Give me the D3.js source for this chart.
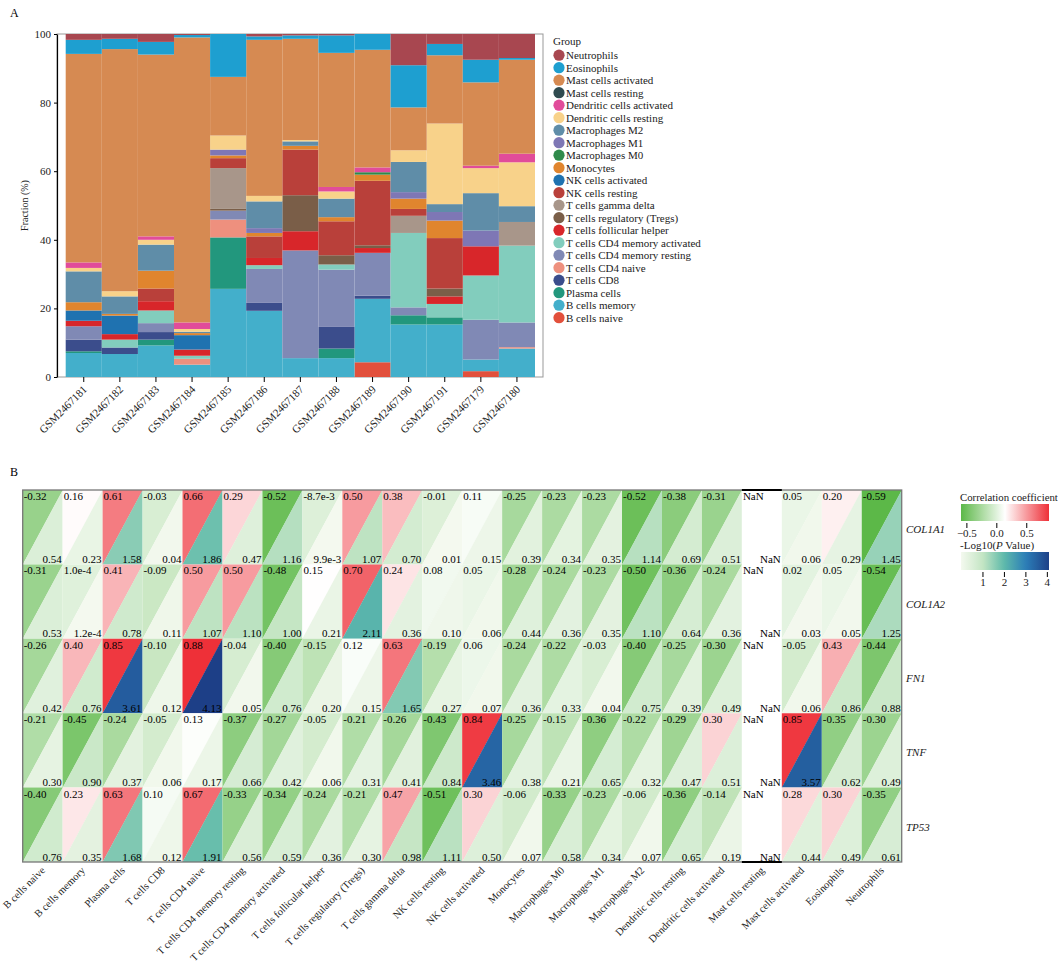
<!DOCTYPE html>
<html>
<head>
<meta charset="utf-8">
<script src="https://cdn.jsdelivr.net/npm/d3@7"></script>
<style>
  body { margin: 0; background: #fff; }
  svg { font-family: "Liberation Serif", "Times New Roman", serif; }
</style>
</head>
<body>
<svg id="chart" width="1058" height="969"></svg>
<script>
// ---- Panel A data ----
const samples = ["GSM2467181", "GSM2467182", "GSM2467183", "GSM2467184", "GSM2467185", "GSM2467186",
  "GSM2467187", "GSM2467188", "GSM2467189", "GSM2467190", "GSM2467191", "GSM2467179", "GSM2467180"];

// stacking order, bottom to top (also heatmap column order)
const cellTypes = ["B cells naive", "B cells memory", "Plasma cells", "T cells CD8", "T cells CD4 naive",
  "T cells CD4 memory resting", "T cells CD4 memory activated", "T cells follicular helper",
  "T cells regulatory (Tregs)", "T cells gamma delta", "NK cells resting", "NK cells activated",
  "Monocytes", "Macrophages M0", "Macrophages M1", "Macrophages M2", "Dendritic cells resting",
  "Dendritic cells activated", "Mast cells resting", "Mast cells activated", "Eosinophils", "Neutrophils"];

const cellColors = ["#e2503c", "#43afcb", "#22977d", "#3b4d8c", "#ee907e", "#8089b5", "#82cdbd", "#d8262a",
  "#7a5e48", "#a8968a", "#b9403a", "#1f72b0", "#e0852e", "#2f8a4b", "#7e77b5", "#5f8da8", "#f8d28a",
  "#e14c9a", "#2f4a4f", "#d68a52", "#1e9fd0", "#a84750"];

// fractions (%) : one row per cell type, one column per sample
const fractions = [
  [0, 0, 0, 0, 0, 0, 0, 0, 4.3, 0, 0, 1.7, 0],
  [7.0, 6.7, 9.2, 3.6, 25.7, 19.3, 5.5, 5.5, 18.5, 15.3, 15.3, 3.4, 8.3],
  [0.5, 0, 1.7, 0, 15.0, 0, 0, 2.8, 0, 2.7, 2.1, 0, 0],
  [3.4, 1.9, 2.2, 0, 0, 2.3, 0, 6.3, 0.9, 0, 0, 0, 0],
  [0, 0, 0, 1.7, 5.2, 0, 0, 0, 0, 0, 0, 0, 0.4],
  [3.9, 0, 2.6, 0, 2.6, 9.9, 31.4, 16.7, 12.5, 2.3, 0, 11.6, 7.2],
  [0, 2.3, 3.7, 0.9, 0, 1.1, 0, 1.5, 0, 21.7, 3.9, 12.9, 22.4],
  [1.6, 1.6, 2.7, 1.8, 0, 2.1, 5.6, 0, 1.4, 0, 2.2, 8.5, 0],
  [0, 0, 0, 0, 0.5, 0, 10.5, 2.7, 0.8, 0, 2.3, 0, 0],
  [0, 0, 0, 0, 11.9, 0, 0, 0, 0, 5.0, 0, 0, 6.9],
  [0, 0, 3.7, 0, 2.9, 6.3, 13.3, 9.9, 18.8, 2.0, 14.7, 0, 0],
  [3.0, 5.4, 0, 4.2, 0, 0, 0, 0, 0, 0, 0, 0, 0],
  [2.4, 0.5, 5.2, 0.6, 0.8, 1.0, 1.1, 1.2, 1.8, 3.0, 5.1, 0, 0],
  [0, 0, 0, 0, 0, 0, 0, 0, 0.7, 0, 0, 0, 0],
  [0, 0, 0, 0, 1.7, 1.4, 0, 0, 0, 1.9, 2.5, 4.6, 0],
  [9.0, 5.1, 7.6, 0.4, 0, 7.8, 1.3, 5.4, 0, 8.8, 2.3, 10.9, 4.6],
  [1.0, 1.5, 1.4, 0.8, 4.1, 1.6, 0.4, 2.1, 0, 3.4, 23.5, 7.3, 12.8],
  [1.6, 0, 1.0, 1.9, 0, 0, 0, 1.3, 1.4, 0, 0, 0.7, 2.5],
  [0, 0, 0, 0, 0, 0, 0, 0, 0, 0, 0, 0, 0],
  [60.8, 70.6, 53.0, 83.1, 17.1, 45.5, 29.5, 39.1, 34.3, 12.5, 19.9, 24.3, 27.4],
  [4.1, 3.0, 3.7, 0.7, 12.5, 1.0, 1.0, 5.1, 4.6, 12.3, 3.3, 6.6, 0.5],
  [1.7, 1.4, 2.3, 0.3, 0, 0.7, 0.4, 0.4, 0, 9.1, 2.9, 7.5, 7.0]
];

const yTicks = [0, 20, 40, 60, 80, 100];

// ---- Panel B data ----
const genes = ["COL1A1", "COL1A2", "FN1", "TNF", "TP53"];

const corrValues = [
  [-0.32, 0.16, 0.61, -0.03, 0.66, 0.29, -0.52, -0.0087, 0.50, 0.38, -0.01, 0.11, -0.25, -0.23, -0.23, -0.52, -0.38, -0.31, NaN, 0.05, 0.20, -0.59],
  [-0.31, 0.0001, 0.41, -0.09, 0.50, 0.50, -0.48, 0.15, 0.70, 0.24, 0.08, 0.05, -0.28, -0.24, -0.23, -0.50, -0.36, -0.24, NaN, 0.02, 0.05, -0.54],
  [-0.26, 0.40, 0.85, -0.10, 0.88, -0.04, -0.40, -0.15, 0.12, 0.63, -0.19, 0.06, -0.24, -0.22, -0.03, -0.40, -0.25, -0.30, NaN, -0.05, 0.43, -0.44],
  [-0.21, -0.45, -0.24, -0.05, 0.13, -0.37, -0.27, -0.05, -0.21, -0.26, -0.43, 0.84, -0.25, -0.15, -0.36, -0.22, -0.29, 0.30, NaN, 0.85, -0.35, -0.30],
  [-0.40, 0.23, 0.63, 0.10, 0.67, -0.33, -0.34, -0.24, -0.21, 0.47, -0.51, 0.30, -0.06, -0.33, -0.23, -0.06, -0.36, -0.14, NaN, 0.28, 0.30, -0.35]
];

const logPValues = [
  [0.54, 0.23, 1.58, 0.04, 1.86, 0.47, 1.16, 0.0099, 1.07, 0.70, 0.01, 0.15, 0.39, 0.34, 0.35, 1.14, 0.69, 0.51, NaN, 0.06, 0.29, 1.45],
  [0.53, 0.00012, 0.78, 0.11, 1.07, 1.10, 1.00, 0.21, 2.11, 0.36, 0.10, 0.06, 0.44, 0.36, 0.35, 1.10, 0.64, 0.36, NaN, 0.03, 0.05, 1.25],
  [0.42, 0.76, 3.61, 0.12, 4.13, 0.05, 0.76, 0.20, 0.15, 1.65, 0.27, 0.07, 0.36, 0.33, 0.04, 0.75, 0.39, 0.49, NaN, 0.06, 0.86, 0.88],
  [0.30, 0.90, 0.37, 0.06, 0.17, 0.66, 0.42, 0.06, 0.31, 0.41, 0.84, 3.46, 0.38, 0.21, 0.65, 0.32, 0.47, 0.51, NaN, 3.57, 0.62, 0.49],
  [0.76, 0.35, 1.68, 0.12, 1.91, 0.56, 0.59, 0.36, 0.30, 0.98, 1.11, 0.50, 0.07, 0.58, 0.34, 0.07, 0.65, 0.19, NaN, 0.44, 0.49, 0.61]
];

const corrTicks = [-0.5, 0, 0.5];
const logPTicks = [1, 2, 3, 4];

const svg = d3.select("#chart");

// =================== Panel A ===================
const A = { left: 57, right: 543, top: 34, bottom: 377 };

svg.append("text").attr("x", 10).attr("y", 17).style("font-size", "12px").text("A");

const x = d3.scaleBand().domain(samples).range([65.7, 535]).padding(0);
const y = d3.scaleLinear().domain([0, 100]).range([A.bottom, A.top]);
const color = d3.scaleOrdinal().domain(cellTypes).range(cellColors);

const rows = samples.map((s, i) => {
  const o = { sample: s };
  cellTypes.forEach((c, j) => { o[c] = fractions[j][i]; });
  return o;
});
const series = d3.stack().keys(cellTypes)(rows);

svg.append("rect")
  .attr("x", A.left).attr("y", A.top)
  .attr("width", A.right - A.left).attr("height", A.bottom - A.top)
  .attr("fill", "#fff").attr("stroke", "#999").attr("stroke-width", 1);

svg.append("g")
  .selectAll("g")
  .data(series)
  .join("g")
  .attr("fill", d => color(d.key))
  .selectAll("rect")
  .data(d => d)
  .join("rect")
  .attr("x", d => x(d.data.sample))
  .attr("width", x.bandwidth())
  .attr("y", d => y(d[1]))
  .attr("height", d => y(d[0]) - y(d[1]));

const yAxis = svg.append("g")
  .attr("transform", `translate(${A.left},0)`)
  .call(d3.axisLeft(y).tickValues(yTicks).tickSize(3).tickSizeOuter(0));
yAxis.select(".domain").attr("stroke", "#000").attr("stroke-width", 1.2);
yAxis.selectAll("text").style("font-family", "Liberation Serif").style("font-size", "11px").attr("fill", "#222");

const xAxis = svg.append("g")
  .attr("transform", `translate(0,${A.bottom})`)
  .call(d3.axisBottom(x).tickSize(5).tickSizeOuter(0));
xAxis.select(".domain").remove();
xAxis.selectAll("text")
  .style("font-family", "Liberation Serif").style("font-size", "11px").attr("fill", "#222")
  .attr("x", 0).attr("y", 0).attr("dy", 0)
  .attr("text-anchor", "end")
  .attr("transform", "translate(4,13) rotate(-45)");

svg.append("text")
  .attr("transform", `translate(28,${(A.top + A.bottom) / 2}) rotate(-90)`)
  .attr("text-anchor", "middle")
  .style("font-size", "10px")
  .attr("fill", "#222")
  .text("Fraction (%)");

// legend
const legend = svg.append("g").attr("transform", "translate(553,0)");
legend.append("text").attr("x", 0).attr("y", 45).style("font-size", "11px").attr("fill", "#222").text("Group");
const legendItems = legend.selectAll("g.item")
  .data(cellTypes.slice().reverse())
  .join("g")
  .attr("class", "item")
  .attr("transform", (d, i) => `translate(0,${55.2 + i * 12.5})`);
legendItems.append("circle").attr("cx", 6).attr("cy", 0).attr("r", 5.6).attr("fill", d => color(d));
legendItems.append("text").attr("x", 13).attr("y", 4).style("font-size", "11px").attr("fill", "#222").text(d => d);

// =================== Panel B ===================
const B = { left: 22.7, right: 901.7, top: 490, bottom: 862 };

svg.append("text").attr("x", 10).attr("y", 476).style("font-size", "12px").text("B");

const hx = d3.scaleBand().domain(cellTypes).range([B.left, B.right]);
const hy = d3.scaleBand().domain(genes).range([B.top, B.bottom]);

const corrMin = -0.59, corrMax = 0.88;
const corrColor = d3.scaleLinear()
  .domain([corrMin, (corrMin + corrMax) / 2, corrMax])
  .range(["#5cb848", "#ffffff", "#ee3038"]);
const pColor = d3.scaleLinear()
  .domain([0, 1, 2, 3, 4.13])
  .range(["#f4f9ef", "#c5e6c4", "#5fbaaa", "#2c7fb8", "#1d3f87"]);

const cells = [];
genes.forEach((g, i) => cellTypes.forEach((c, j) => {
  cells.push({ gene: g, cell: c, r: corrValues[i][j], p: logPValues[i][j] });
}));

function fmt(v) {
  if (isNaN(v)) return "NaN";
  if (v !== 0 && Math.abs(v) < 0.01) return v.toExponential(1);
  return v.toFixed(2);
}

const cellG = svg.append("g").selectAll("g").data(cells).join("g");
cellG.append("path")
  .attr("d", d => {
    const x0 = hx(d.cell), x1 = x0 + hx.bandwidth(), y0 = hy(d.gene), y1 = y0 + hy.bandwidth();
    return `M${x0},${y0}L${x1 + 0.3},${y0}L${x0},${y1 + 0.3}Z`;
  })
  .attr("fill", d => isNaN(d.r) ? "#fff" : corrColor(d.r));
cellG.append("path")
  .attr("d", d => {
    const x0 = hx(d.cell), x1 = x0 + hx.bandwidth(), y0 = hy(d.gene), y1 = y0 + hy.bandwidth();
    return `M${x1},${y0}L${x1},${y1}L${x0},${y1}Z`;
  })
  .attr("fill", d => isNaN(d.p) ? "#fff" : pColor(d.p));
cellG.append("text")
  .attr("x", d => hx(d.cell) + 1)
  .attr("y", d => hy(d.gene) + 10)
  .style("font-size", "11px")
  .text(d => fmt(d.r));
cellG.append("text")
  .attr("x", d => hx(d.cell) + hx.bandwidth() - 1)
  .attr("y", d => hy(d.gene) + hy.bandwidth() - 1.5)
  .attr("text-anchor", "end")
  .style("font-size", "11px")
  .text(d => fmt(d.p));

svg.append("rect")
  .attr("x", B.left).attr("y", B.top)
  .attr("width", B.right - B.left).attr("height", B.bottom - B.top)
  .attr("fill", "none").attr("stroke", "#777").attr("stroke-width", 1.3);

// black edge over the all-NaN column
const nanCols = cellTypes.filter((c, j) => corrValues.every(r => isNaN(r[j])));
nanCols.forEach(c => {
  [B.top, B.bottom].forEach(yy => {
    svg.append("line")
      .attr("x1", hx(c)).attr("x2", hx(c) + hx.bandwidth())
      .attr("y1", yy).attr("y2", yy)
      .attr("stroke", "#000").attr("stroke-width", 1.8);
  });
});

// gene labels
svg.append("g").selectAll("text").data(genes).join("text")
  .attr("x", 906)
  .attr("y", d => hy(d) + hy.bandwidth() / 2 + 6)
  .style("font-size", "11px").style("font-style", "italic")
  .attr("fill", "#222")
  .text(d => d);

// column labels
svg.append("g").selectAll("text").data(cellTypes).join("text")
  .attr("text-anchor", "end")
  .attr("transform", d => `translate(${hx(d) + hx.bandwidth() / 2 + 3},${B.bottom + 9}) rotate(-45)`)
  .style("font-size", "10.5px")
  .attr("fill", "#222")
  .text(d => d);

// colour legends
const lg = { x0: 961, x1: 1049 };
const defs = svg.append("defs");

function gradient(id, scale, domain) {
  const grad = defs.append("linearGradient").attr("id", id);
  d3.range(0, 1.0001, 0.05).forEach(t => {
    grad.append("stop").attr("offset", t).attr("stop-color", scale(domain[0] + t * (domain[1] - domain[0])));
  });
}

const corrLegendScale = d3.scaleLinear().domain([corrMin, corrMax]).range([lg.x0, lg.x1]);
gradient("gradCorr", corrColor, corrLegendScale.domain());
svg.append("text").attr("x", lg.x0 - 1).attr("y", 501).style("font-size", "10.8px").attr("fill", "#222")
  .text("Correlation coefficient");
svg.append("rect").attr("x", lg.x0).attr("y", 504).attr("width", lg.x1 - lg.x0).attr("height", 17)
  .attr("fill", "url(#gradCorr)");
const corrAxis = svg.append("g").attr("transform", "translate(0,523)")
  .call(d3.axisBottom(corrLegendScale).tickValues(corrTicks).tickFormat(d3.format(".1f")).tickSize(5).tickPadding(1));
corrAxis.select(".domain").remove();
corrAxis.selectAll("text").style("font-family", "Liberation Serif").style("font-size", "11px").attr("fill", "#222");

const pLegendScale = d3.scaleLinear().domain([0, 4.1]).range([lg.x0, lg.x1]);
gradient("gradP", pColor, pLegendScale.domain());
const pTitle = svg.append("text").attr("x", lg.x0 - 1).attr("y", 549).style("font-size", "11px").attr("fill", "#222");
pTitle.append("tspan").text("-Log10(");
pTitle.append("tspan").style("font-style", "italic").text("P");
pTitle.append("tspan").text(" Value)");
svg.append("rect").attr("x", lg.x0).attr("y", 552).attr("width", lg.x1 - lg.x0).attr("height", 18)
  .attr("fill", "url(#gradP)");
const pAxis = svg.append("g").attr("transform", "translate(0,572)")
  .call(d3.axisBottom(pLegendScale).tickValues(logPTicks).tickFormat(d3.format("d")).tickSize(5).tickPadding(1));
pAxis.select(".domain").remove();
pAxis.selectAll("text").style("font-family", "Liberation Serif").style("font-size", "11px").attr("fill", "#222");
</script>
</body>
</html>
